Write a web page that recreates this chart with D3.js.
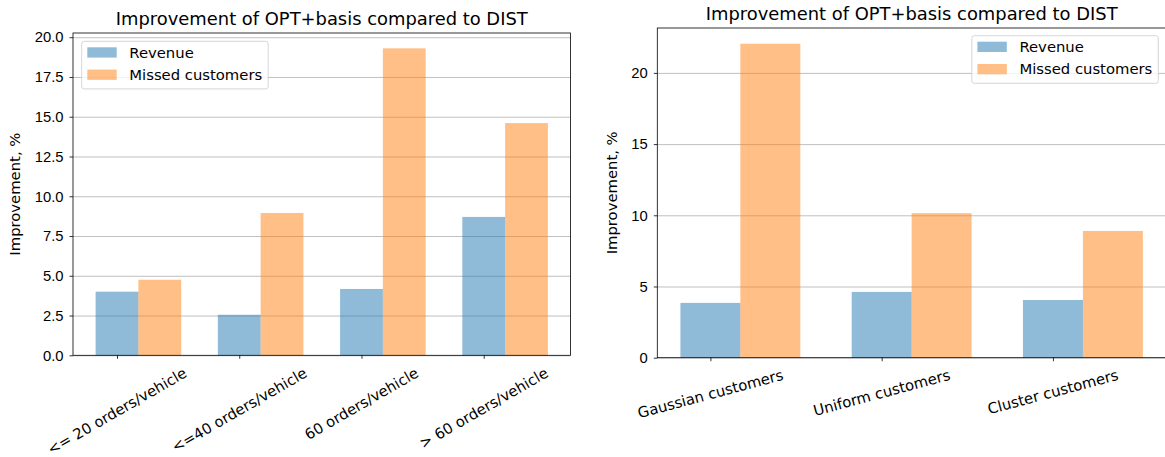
<!DOCTYPE html>
<html>
<head>
<meta charset="utf-8">
<script src="https://cdn.jsdelivr.net/npm/d3@7"></script>
<style>
  body { margin: 0; background: #fff; }
  svg { font-family: "DejaVu Sans", sans-serif; }
  .grid line { stroke: #b0b0b0; stroke-width: 0.8px; }
  .grid path { display: none; }
  .axis path { display: none; }
  .axis line { stroke: #000; stroke-width: 0.8px; }
  .axis text { font-size: 14.8px; fill: #000; }
  .spine { fill: none; stroke: #000; stroke-width: 0.8px; }
</style>
</head>
<body>
<script>
const title = 'Improvement of OPT+basis compared to DIST';
const yLabel = 'Improvement, %';
const seriesNames = ['Revenue', 'Missed customers'];
const colors = ['#1f77b4', '#ff7f0e'];

// left panel
const leftCategories = ['<= 20 orders/vehicle', '<=40 orders/vehicle', '60 orders/vehicle', '> 60 orders/vehicle'];
const leftRevenue = [4.0, 2.55, 4.17, 8.7];
const leftMissed = [4.75, 8.95, 19.3, 14.6];
const leftTicks = [0, 2.5, 5, 7.5, 10, 12.5, 15, 17.5, 20];
const leftTickLabels = ['0.0', '2.5', '5.0', '7.5', '10.0', '12.5', '15.0', '17.5', '20.0'];

// right panel
const rightCategories = ['Gaussian customers', 'Uniform customers', 'Cluster customers'];
const rightRevenue = [3.85, 4.62, 4.05];
const rightMissed = [22.05, 10.15, 8.9];
const rightTicks = [0, 5, 10, 15, 20];
const rightTickLabels = ['0', '5', '10', '15', '20'];

const barWidth = 0.35;
const fs = 14.8;

const svg = d3.select('body')
  .append('svg')
  .attr('width', 1165)
  .attr('height', 457);

const panels = [
  {
    box: [73, 33, 570.5, 355.3], rot: 30, ylabX: 20, legendSide: 'left',
    cats: leftCategories, series: [leftRevenue, leftMissed], ticks: leftTicks, tickLabels: leftTickLabels
  },
  {
    box: [657.3, 28, 1166, 357.7], rot: 15, ylabX: 617, legendSide: 'right',
    cats: rightCategories, series: [rightRevenue, rightMissed], ticks: rightTicks, tickLabels: rightTickLabels
  }
];

panels.forEach(p => {
  const [x0, y0, x1, y1] = p.box;
  const w = x1 - x0, h = y1 - y0;
  const ymax = d3.max(p.series.flat()) * 1.05;

  // matplotlib-like 5% margins around the bar extent
  const lo = -barWidth / 2;
  const hi = p.cats.length - 1 + barWidth * 1.5;
  const pad = (hi - lo) * 0.05;

  const x = d3.scaleLinear().domain([lo - pad, hi + pad]).range([0, w]);
  const y = d3.scaleLinear().domain([0, ymax]).range([h, 0]);

  const g = svg.append('g').attr('transform', `translate(${x0},${y0})`);

  // grid
  g.append('g')
    .attr('class', 'grid')
    .call(d3.axisLeft(y).tickValues(p.ticks).tickSize(-w).tickFormat(''));

  // bars
  p.series.forEach((vals, s) => {
    g.append('g')
      .selectAll('rect')
      .data(vals)
      .join('rect')
      .attr('x', (d, i) => x(i + s * barWidth - barWidth / 2))
      .attr('width', (d, i) => x(i + s * barWidth + barWidth / 2) - x(i + s * barWidth - barWidth / 2))
      .attr('y', d => y(d))
      .attr('height', d => h - y(d))
      .attr('fill', colors[s])
      .attr('fill-opacity', 0.5);
  });

  // spines
  g.append('rect').attr('class', 'spine').attr('width', w).attr('height', h);

  // y axis
  g.append('g')
    .attr('class', 'axis')
    .call(d3.axisLeft(y).tickValues(p.ticks).tickSize(3.5).tickPadding(6)
      .tickFormat((d, i) => p.tickLabels[i]));

  // x axis
  g.append('g')
    .attr('class', 'axis')
    .attr('transform', `translate(0,${h})`)
    .call(d3.axisBottom(x).tickValues(p.cats.map((c, i) => i)).tickSize(3.5).tickFormat(''));

  const rad = p.rot * Math.PI / 180;
  g.append('g')
    .selectAll('text')
    .data(p.cats)
    .join('text')
    .attr('font-size', fs)
    .attr('text-anchor', 'middle')
    .attr('dy', '0.35em')
    .text(d => d)
    .each(function (d, i) {
      const tw = this.getComputedTextLength();
      const cy = h + 11 + (tw * Math.sin(rad) + 12 * Math.cos(rad)) / 2;
      d3.select(this).attr('transform', `translate(${x(i)},${cy}) rotate(${-p.rot})`);
    });

  // y label
  g.append('text')
    .attr('font-size', fs)
    .attr('text-anchor', 'middle')
    .attr('transform', `translate(${p.ylabX - x0},${h / 2}) rotate(-90)`)
    .text(yLabel);

  // title
  g.append('text')
    .attr('font-size', 17.9)
    .attr('text-anchor', 'middle')
    .attr('x', w / 2)
    .attr('y', -8.5)
    .text(title);

  // legend
  const lg = g.append('g');
  const box = lg.append('rect')
    .attr('fill', '#fff').attr('fill-opacity', 0.8)
    .attr('stroke', '#cccccc').attr('stroke-width', 0.8)
    .attr('rx', 2.5);
  let maxLen = 0;
  seriesNames.forEach((name, s) => {
    lg.append('rect')
      .attr('x', 5.6).attr('y', 6 + s * 22.3)
      .attr('width', 29.4).attr('height', 10.3)
      .attr('fill', colors[s]).attr('fill-opacity', 0.5);
    const t = lg.append('text')
      .attr('font-size', fs)
      .attr('x', 47.6).attr('y', 11.2 + s * 22.3)
      .attr('dy', '0.35em')
      .text(name);
    maxLen = Math.max(maxLen, t.node().getComputedTextLength());
  });
  const bw = 47.6 + maxLen + 6;
  box.attr('width', bw).attr('height', 47.6);
  const lx = p.legendSide === 'left' ? 8.7 : w - 7.7 - bw;
  const ly = p.legendSide === 'left' ? 8.3 : 7.7;
  lg.attr('transform', `translate(${lx},${ly})`);
});
</script>
</body>
</html>
